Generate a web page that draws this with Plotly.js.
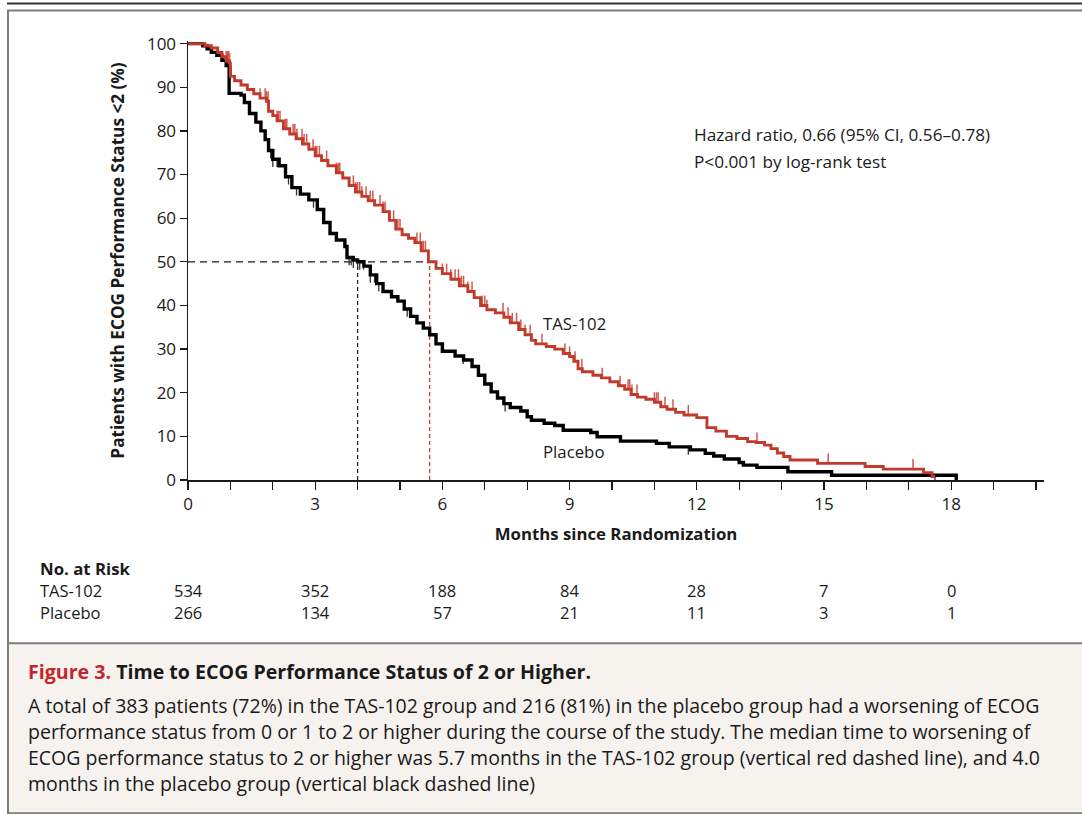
<!DOCTYPE html>
<html>
<head>
<meta charset="utf-8">
<script src="https://cdn.plot.ly/plotly-3.0.1.min.js"></script>
<style>
  html, body { margin: 0; padding: 0; background: #ffffff; }
  #chart { width: 1082px; height: 814px; }
</style>
</head>
<body>
<div id="chart"></div>
<script>
// Kaplan-Meier estimates: time to ECOG performance status >= 2 (months, % still < 2)
const tasTime = [0, 0.3, 0.4, 0.55, 0.7, 0.8, 0.9, 0.98, 1.0, 1.1, 1.25, 1.4, 1.55, 1.7, 1.85, 1.9, 2.0, 2.1, 2.25, 2.4,
  2.55, 2.7, 2.85, 3.0, 3.15, 3.3, 3.5, 3.65, 3.8, 3.95, 4.1, 4.25, 4.4, 4.6, 4.75, 4.9, 5.05, 5.2, 5.35, 5.5,
  5.67, 5.85, 6.0, 6.2, 6.4, 6.6, 6.75, 6.9, 7.05, 7.25, 7.45, 7.6, 7.8, 7.95, 8.1, 8.2, 8.45, 8.65, 8.85, 9.0,
  9.1, 9.2, 9.3, 9.55, 9.75, 9.95, 10.15, 10.3, 10.45, 10.6, 10.8, 11.0, 11.15, 11.3, 11.5, 11.7, 12.0, 12.24, 12.45, 12.7,
  12.95, 13.2, 13.4, 13.6, 13.75, 13.9, 14.05, 14.2, 14.85, 15.97, 16.4, 17.35, 17.55, 17.62];
const tasSurv = [100, 100, 99.5, 99, 98, 97, 96, 95.5, 92.5, 91.5, 90.5, 89.5, 88.5, 87.5, 86.8, 84.5, 83.5, 82.3, 80.5, 79.3,
  78.2, 77, 75.8, 74.3, 73.2, 72, 70.4, 69.2, 67.5, 66, 65, 64, 63, 61.5, 59.5, 57.5, 56.2, 55.4, 54.4, 52.5,
  50, 48.5, 47.3, 46, 44.5, 43.2, 41.8, 40, 39, 38.3, 37.3, 36, 34.5, 33.3, 32, 31.2, 30.6, 30, 29, 28.3,
  27.2, 25.5, 24.8, 24, 23.4, 22.5, 21.6, 20.8, 19.6, 19, 18.5, 17.8, 16.8, 16.2, 15.5, 14.9, 14.3, 12, 11.2, 10,
  9.5, 8.8, 8.6, 8.0, 7.2, 6.2, 5.4, 4.6, 3.8, 3.1, 2.5, 1.7, 0.8, 0.8];

const pboTime = [0, 0.25, 0.35, 0.45, 0.55, 0.68, 0.8, 0.9, 0.97, 1.25, 1.33, 1.45, 1.6, 1.72, 1.82, 1.9, 2.0, 2.15, 2.3, 2.45,
  2.65, 2.85, 3.05, 3.2, 3.35, 3.5, 3.7, 3.75, 3.9, 4.0, 4.15, 4.3, 4.45, 4.6, 4.8, 4.95, 5.1, 5.25, 5.4, 5.55,
  5.7, 5.85, 6.0, 6.3, 6.5, 6.7, 6.85, 7.0, 7.15, 7.3, 7.45, 7.6, 7.85, 8.0, 8.1, 8.4, 8.65, 8.85, 9.5, 9.65,
  10.2, 11.05, 11.35, 11.85, 12.2, 12.4, 12.65, 13.0, 13.1, 13.42, 14.15, 15.18, 18.12];
const pboSurv = [100, 100, 99.5, 98.8, 98, 97.3, 96.2, 95, 88.6, 88.2, 86.5, 84, 82, 80, 78, 75.5, 73.5, 72, 69.5, 67,
  65.5, 64.2, 62, 59, 56.5, 55, 53.5, 51, 50.4, 50, 49, 47, 45, 43.2, 42, 41, 39.2, 37.5, 36, 34.8,
  33.3, 31.2, 29.5, 28.4, 27.5, 26, 24, 22, 20.2, 18.8, 17.5, 16.6, 15.8, 14.5, 13.7, 13.0, 12.5, 11.4, 10.9, 9.9,
  8.9, 8.4, 7.6, 6.9, 6.1, 5.5, 4.8, 4.0, 3.4, 2.9, 1.9, 1.1, 0];

// Censoring times (months)
const tasCensor = [0.9, 0.93, 0.96, 0.98, 1.0, 1.02, 1.7, 1.82, 1.85, 1.89, 2.1, 2.13, 2.17, 2.3, 2.33, 2.48, 2.52, 2.57,
  2.69, 2.74, 2.8, 2.95, 3.0, 3.04, 3.1, 3.27, 3.5, 3.55, 3.58, 3.9, 3.95, 4.0, 4.05, 4.1, 4.2, 4.3, 4.36, 4.53,
  4.6, 4.65, 4.75, 4.85, 4.95, 5.0, 5.4, 5.48, 5.55, 5.6, 6.0, 6.1, 6.2, 6.3, 6.38, 6.45, 6.5, 6.6, 6.7, 6.94,
  7.0, 7.05, 7.43, 7.55, 7.65, 7.75, 7.85, 7.95, 8.07, 8.35, 8.89, 9.0, 9.13, 9.29, 9.77, 10.19, 10.38, 10.42,
  10.47, 10.59, 11.0, 11.05, 11.09, 11.25, 11.44, 11.8, 12.24, 13.42, 15.1, 17.1];
const pboCensor = [1.95, 2.0, 2.1, 2.12, 2.37, 2.56, 2.96, 3.8, 3.85, 3.9, 4.0, 4.05, 4.14, 4.3, 4.4, 4.5, 5.17, 6.49,
  7.48, 11.8, 17.62];

// Medians (months)
const medianTas = 5.7;
const medianPbo = 4.0;

// Numbers at risk
const riskTimes = [0, 3, 6, 9, 12, 15, 18];
const riskTas = [534, 352, 188, 84, 28, 7, 0];
const riskPbo = [266, 134, 57, 21, 11, 3, 1];

const xTickVals = [0, 1, 2, 3, 4, 5, 6, 7, 8, 9, 10, 11, 12, 13, 14, 15, 16, 17, 18, 19, 20];
const xTickText = xTickVals.map(v => (v % 3 === 0 && v <= 18) ? String(v) : '');
const yTickVals = [0, 10, 20, 30, 40, 50, 60, 70, 80, 90, 100];

const RED = '#c13a2b';
const RED_LIGHT = '#d05a4e';
const INK = '#1a1a1a';
const FONT = 'Open Sans, Noto Sans, sans-serif';

// value of a right-continuous step function at time t
function stepAt(ts, vs, t) {
  let v = vs[0];
  for (let i = 0; i < ts.length; i++) if (ts[i] <= t) v = vs[i];
  return v;
}

// page geometry: plot area spans x 188..1044, y 41.4..480 in pixels
const L = 188, R = 1044, B = 480, T = 41.4;
const px = x => (x - L) / (R - L);
const py = y => (B - y) / (B - T);

const tasCensorY = tasCensor.map(t => stepAt(tasTime, tasSurv, t));
const pboCensorY = pboCensor.map(t => stepAt(pboTime, pboSurv, t));

const traces = [
  // median reference lines
  { x: [0, medianTas], y: [50, 50], mode: 'lines', line: { color: INK, width: 1.2, dash: '7px,5px' }, hoverinfo: 'skip' },
  { x: [medianPbo, medianPbo], y: [0, 50], mode: 'lines', line: { color: INK, width: 1.2, dash: '4px,3px' }, hoverinfo: 'skip' },
  { x: [medianTas, medianTas], y: [0, 50], mode: 'lines', line: { color: '#d0302a', width: 1.2, dash: '4px,3px' }, hoverinfo: 'skip' },
  // censoring ticks
  { x: tasCensor, y: tasCensorY, mode: 'markers', marker: { size: 1, color: 'rgba(0,0,0,0)' },
    error_y: { type: 'data', symmetric: false, array: tasCensor.map(() => 2.3), arrayminus: tasCensor.map(() => 0),
      width: 0, thickness: 1.5, color: RED_LIGHT }, hoverinfo: 'skip' },
  { x: pboCensor, y: pboCensorY, mode: 'markers', marker: { size: 1, color: 'rgba(0,0,0,0)' },
    error_y: { type: 'data', symmetric: false, array: pboCensor.map(() => 0), arrayminus: pboCensor.map(() => 1.8),
      width: 0, thickness: 1.3, color: '#333333' }, hoverinfo: 'skip' },
  // survival curves
  { x: pboTime, y: pboSurv, mode: 'lines', name: 'Placebo', line: { color: '#000000', width: 3.4, shape: 'hv' } },
  { x: tasTime, y: tasSurv, mode: 'lines', name: 'TAS-102', line: { color: RED, width: 2.9, shape: 'hv' } }
];

const ann = [];
function text(x, y, s, size) {
  ann.push({ x: px(x), y: py(y), xref: 'paper', yref: 'paper', text: s, showarrow: false,
    xanchor: 'left', yanchor: 'middle', font: { family: FONT, size: size, color: INK } });
}

text(692, 135, 'Hazard ratio, 0.66 (95% CI, 0.56–0.78)', 17.2);
text(692, 162, 'P&lt;0.001 by log-rank test', 17.2);
text(541, 324, 'TAS-102', 16.8);
text(541, 452, 'Placebo', 16.8);

// number-at-risk table
text(38, 568, '<b>No. at Risk</b>', 16.8);
text(38, 590, 'TAS-102', 16.5);
text(38, 612, 'Placebo', 16.5);
riskTimes.forEach((t, i) => {
  ann.push({ x: t, xref: 'x', y: py(590), yref: 'paper', text: String(riskTas[i]), showarrow: false,
    xanchor: 'center', yanchor: 'middle', font: { family: FONT, size: 16.5, color: INK } });
  ann.push({ x: t, xref: 'x', y: py(612), yref: 'paper', text: String(riskPbo[i]), showarrow: false,
    xanchor: 'center', yanchor: 'middle', font: { family: FONT, size: 16.5, color: INK } });
});

// caption
text(26, 671, '<span style="color:#c4262e"><b>Figure 3.</b></span><b> Time to ECOG Performance Status of 2 or Higher.</b>', 19.6);
const captionLines = [
  'A total of 383 patients (72%) in the TAS-102 group and 216 (81%) in the placebo group had a worsening of ECOG',
  'performance status from 0 or 1 to 2 or higher during the course of the study. The median time to worsening of',
  'ECOG performance status to 2 or higher was 5.7 months in the TAS-102 group (vertical red dashed line), and 4.0',
  'months in the placebo group (vertical black dashed line)'
];
captionLines.forEach((s, i) => text(26, 705 + i * 26, s, 19.5));

const shapes = [
  // caption panel
  { type: 'rect', xref: 'paper', yref: 'paper', x0: px(8), x1: px(1090), y0: py(644), y1: py(813),
    fillcolor: '#f6f3ef', line: { width: 0 }, layer: 'below' },
  { type: 'line', xref: 'paper', yref: 'paper', x0: px(8), x1: px(1090), y0: py(643), y1: py(643),
    line: { color: '#7d7d7d', width: 2 } },
  // frame
  { type: 'rect', xref: 'paper', yref: 'paper', x0: px(8), x1: px(1090), y0: py(11), y1: py(813),
    line: { color: '#7d7d7d', width: 2 }, fillcolor: 'rgba(0,0,0,0)' },
  { type: 'line', xref: 'paper', yref: 'paper', x0: px(7), x1: px(1090), y0: py(4), y1: py(4),
    line: { color: '#333333', width: 2 } }
];

const layout = {
  width: 1082, height: 814, autosize: false,
  margin: { l: L, r: 1082 - R, t: T, b: 814 - B, pad: 0 },
  paper_bgcolor: '#ffffff', plot_bgcolor: '#ffffff',
  showlegend: false,
  font: { family: FONT, color: INK },
  xaxis: {
    range: [0, 20.19], showgrid: false, zeroline: false, showline: true, linecolor: INK, linewidth: 1.5,
    ticks: 'outside', ticklen: 8, tickwidth: 1.3, tickcolor: INK,
    tickmode: 'array', tickvals: xTickVals, ticktext: xTickText,
    tickfont: { family: FONT, size: 17, color: INK },
    title: { text: '<b>Months since Randomization</b>', font: { family: FONT, size: 16.8, color: INK }, standoff: 14 }
  },
  yaxis: {
    range: [0, 100.6], showgrid: false, zeroline: false, showline: true, linecolor: INK, linewidth: 1.5,
    ticks: 'outside', ticklen: 7, tickwidth: 1.3, tickcolor: INK,
    tickmode: 'array', tickvals: yTickVals,
    tickfont: { family: FONT, size: 17, color: INK },
    title: { text: '<b>Patients with ECOG Performance Status &lt;2 (%)</b>', font: { family: FONT, size: 17.2, color: INK }, standoff: 18 }
  },
  annotations: ann,
  shapes: shapes
};

Plotly.newPlot('chart', traces, layout, { displayModeBar: false, staticPlot: true });
</script>
</body>
</html>
